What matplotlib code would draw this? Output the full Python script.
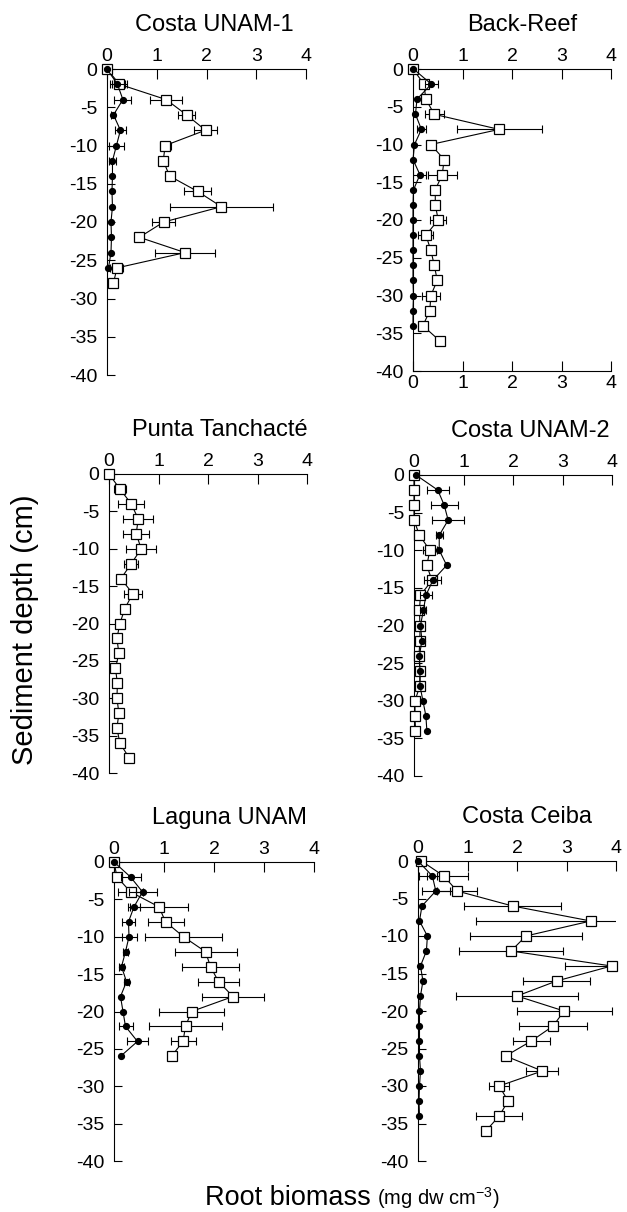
import matplotlib
import numpy as np

matplotlib.use("Agg")
import matplotlib.pyplot as plt  # noqa: E402

plt.rcParams["font.family"] = ["Liberation Sans", "DejaVu Sans"]
plt.rcParams["mathtext.fontset"] = "custom"
plt.rcParams["mathtext.rm"] = "Liberation Sans"
plt.rcParams["mathtext.default"] = "rm"

# --- data: root biomass (mg dw cm-3) vs sediment depth (cm) ---
# open squares / filled circles, each with a horizontal error (+/-)

# Costa UNAM-1
cu1_sq_depth = [0, -2, -4, -6, -8, -10, -12, -14, -16, -18, -20, -22, -24, -26, -28]
cu1_sq = [0.0, 0.25, 1.19, 1.60, 1.98, 1.17, 1.13, 1.26, 1.82, 2.30, 1.14, 0.65, 1.57, 0.20, 0.13]
cu1_sq_err = [0, 0.15, 0.32, 0.17, 0.23, 0.11, 0.09, 0.03, 0.27, 1.03, 0.23, 0.05, 0.61, 0.13, 0]
cu1_dot_depth = [0, -2, -4, -6, -8, -10, -12, -14, -16, -18, -20, -22, -24, -26]
cu1_dot = [0.0, 0.21, 0.32, 0.13, 0.27, 0.19, 0.11, 0.11, 0.10, 0.11, 0.08, 0.09, 0.08, 0.03]
cu1_dot_err = [0, 0.15, 0.17, 0.04, 0.11, 0.15, 0.07, 0, 0, 0, 0, 0, 0, 0]

# Back-Reef
br_sq_depth = [0, -2, -4, -6, -8, -10, -12, -14, -16, -18, -20, -22, -24, -26, -28, -30, -32, -34, -36]
br_sq = [0.0, 0.22, 0.26, 0.43, 1.74, 0.36, 0.63, 0.59, 0.45, 0.45, 0.51, 0.26, 0.36, 0.43, 0.49,
         0.36, 0.34, 0.20, 0.54]
br_sq_err = [0, 0, 0.08, 0.19, 0.86, 0, 0, 0.29, 0, 0, 0.16, 0.15, 0, 0.04, 0, 0.18, 0, 0, 0]
br_dot_depth = [0, -2, -4, -6, -8, -10, -12, -14, -16, -18, -20, -22, -24, -26, -28, -30, -32, -34]
br_dot = [0.01, 0.37, 0.08, 0.05, 0.17, 0.03, 0.0, 0.14, 0.01, 0.0, 0.0, 0.0, 0.0, 0.0, 0.0,
          0.01, 0.0, 0.0]
br_dot_err = [0, 0.13, 0, 0, 0.09, 0, 0, 0.13, 0, 0, 0, 0, 0, 0, 0, 0, 0, 0]

# Punta Tanchacte (squares only)
pt_sq_depth = [0, -2, -4, -6, -8, -10, -12, -14, -16, -18, -20, -22, -24, -26, -28, -30, -32, -34,
               -36, -38]
pt_sq = [0.0, 0.22, 0.45, 0.59, 0.55, 0.65, 0.45, 0.24, 0.48, 0.32, 0.22, 0.16, 0.20, 0.13, 0.17,
         0.16, 0.20, 0.16, 0.22, 0.41]
pt_sq_err = [0, 0.12, 0.26, 0.30, 0.26, 0.30, 0.14, 0, 0.18, 0.06, 0, 0, 0, 0, 0, 0, 0, 0, 0, 0]

# Costa UNAM-2
cu2_sq_depth = [0, -2, -4, -6, -8, -10, -12, -14, -16, -18, -20, -22, -24, -26, -28, -30, -32, -34]
cu2_sq = [0.0, 0.0, 0.0, 0.0, 0.11, 0.32, 0.26, 0.36, 0.13, 0.11, 0.12, 0.12, 0.10, 0.12, 0.12,
          0.02, 0.02, 0.03]
cu2_sq_err = [0, 0, 0, 0, 0, 0.14, 0, 0.06, 0, 0, 0, 0, 0, 0, 0, 0, 0, 0]
cu2_dot_depth = [0, -2, -4, -6, -8, -10, -12, -14, -16, -18, -20, -22, -24, -26, -28, -30, -32, -34]
cu2_dot = [0.04, 0.48, 0.61, 0.69, 0.51, 0.51, 0.66, 0.38, 0.24, 0.19, 0.13, 0.16, 0.11, 0.12,
           0.12, 0.18, 0.24, 0.26]
cu2_dot_err = [0, 0.22, 0.27, 0.32, 0.07, 0, 0, 0.17, 0.12, 0.06, 0, 0, 0, 0, 0, 0, 0, 0]

# Laguna UNAM
lu_sq_depth = [0, -2, -4, -6, -8, -10, -12, -14, -16, -18, -20, -22, -24, -26]
lu_sq = [0.0, 0.06, 0.33, 0.90, 1.03, 1.39, 1.83, 1.93, 2.09, 2.38, 1.55, 1.43, 1.38, 1.15]
lu_sq_err = [0, 0, 0.25, 0.58, 0.36, 0.77, 0.62, 0.57, 0.41, 0.62, 0.65, 0.73, 0.25, 0]
lu_dot_depth = [0, -2, -4, -6, -8, -10, -12, -14, -16, -18, -20, -22, -24, -26]
lu_dot = [0.0, 0.33, 0.57, 0.40, 0.29, 0.30, 0.23, 0.15, 0.25, 0.13, 0.18, 0.23, 0.47, 0.13]
lu_dot_err = [0, 0.20, 0.28, 0.12, 0.13, 0.15, 0.05, 0.05, 0.05, 0, 0, 0.14, 0.21, 0]

# Costa Ceiba
cc_sq_depth = [0, -2, -4, -6, -8, -10, -12, -14, -16, -18, -20, -22, -24, -26, -28, -30, -32, -34, -36]
cc_sq = [0.07, 0.52, 0.79, 1.91, 3.49, 2.18, 1.88, 3.91, 2.80, 2.00, 2.95, 2.73, 2.29, 1.77, 2.51,
         1.64, 1.82, 1.64, 1.37]
cc_sq_err = [0, 0.50, 0.40, 0.98, 2.32, 1.13, 1.05, 0.95, 0.68, 1.24, 0.96, 0.69, 0.38, 0.05, 0.32,
             0.20, 0, 0.47, 0]
cc_dot_depth = [0, -2, -4, -6, -8, -10, -12, -14, -16, -18, -20, -22, -24, -26, -28, -30, -32, -34]
cc_dot = [0.0, 0.29, 0.36, 0.08, 0.03, 0.19, 0.17, 0.05, 0.10, 0.05, 0.03, 0.03, 0.03, 0.03, 0.05,
          0.03, 0.02, 0.03]
cc_dot_err = [0, 0.10, 0.28, 0, 0, 0, 0, 0, 0, 0, 0, 0, 0, 0, 0, 0, 0, 0]

titles = ["Costa UNAM-1", "Back-Reef", "Punta Tanchacté", "Costa UNAM-2", "Laguna UNAM", "Costa Ceiba"]
x_ticks = [0, 1, 2, 3, 4]
y_ticks = [0, -5, -10, -15, -20, -25, -30, -35, -40]
y_ticklabels = ["0", "-5", "-10", "-15", "-20", "-25", "-30", "-35", "-40"]

panels = [
    ((cu1_sq_depth, cu1_sq, cu1_sq_err), (cu1_dot_depth, cu1_dot, cu1_dot_err)),
    ((br_sq_depth, br_sq, br_sq_err), (br_dot_depth, br_dot, br_dot_err)),
    ((pt_sq_depth, pt_sq, pt_sq_err), None),
    ((cu2_sq_depth, cu2_sq, cu2_sq_err), (cu2_dot_depth, cu2_dot, cu2_dot_err)),
    ((lu_sq_depth, lu_sq, lu_sq_err), (lu_dot_depth, lu_dot, lu_dot_err)),
    ((cc_sq_depth, cc_sq, cc_sq_err), (cc_dot_depth, cc_dot, cc_dot_err)),
]

# layout in pixels: x of 0, x of 4, y of depth 0, y of depth -40 ; title x as axes fraction
W, H = 627, 1212
BOXES = [(107, 306, 69, 375), (413, 611, 69, 371),
         (109, 307, 474, 773), (414, 612, 475, 776),
         (114, 314, 862, 1161), (418, 616, 861, 1161)]
TITLE_X = [0.54, 0.55, 0.56, 0.585, 0.575, 0.553]


def draw_series(ax, series, marker, ms, z):
    d, v, e = (np.asarray(a, float) for a in series)
    m = e > 0
    if m.any():
        ax.errorbar(v[m], d[m], xerr=e[m], fmt="none", ecolor="k", elinewidth=0.8,
                    capsize=2.6, capthick=0.8, zorder=z - 1)
    if marker == "s":
        ax.plot(v, d, "-s", color="k", lw=0.8, ms=ms, mfc="white", mec="k", mew=0.9,
                clip_on=False, zorder=z)
    else:
        ax.plot(v, d, "-o", color="k", lw=0.8, ms=ms, clip_on=False, zorder=z)


fig = plt.figure(figsize=(W / 100, H / 100), dpi=100)
for i, (title, (sq, dot), box) in enumerate(zip(titles, panels, BOXES)):
    x0, x4, yt, yb = box
    ax = fig.add_axes([x0 / W, 1 - yb / H, (x4 - x0) / W, (yb - yt) / H])
    ax.set_xlim(0, 4)
    ax.set_ylim(-40, 0)
    draw_series(ax, sq, "s", 7.5, 3)
    if dot is not None:
        draw_series(ax, dot, "o", 4.2, 5)
    back_reef = i == 1
    ax.set_xticks(x_ticks)
    ax.set_yticks(y_ticks)
    ax.set_yticklabels(y_ticklabels)
    ax.tick_params(axis="x", direction="in", length=7, width=0.8, pad=3, labelsize=14,
                   top=True, labeltop=True, bottom=back_reef, labelbottom=back_reef)
    ax.tick_params(axis="y", direction="in", length=6, width=0.8, pad=7, labelsize=14)
    ax.spines["right"].set_visible(False)
    ax.spines["bottom"].set_visible(back_reef)
    for s in ax.spines.values():
        s.set_linewidth(0.8)
    ax.patch.set_alpha(0)
    ax.annotate(title, xy=(TITLE_X[i], 1), xycoords="axes fraction", xytext=(0, 32),
                textcoords="offset points", ha="center", va="center", fontsize=17)

fig.text(25 / W, 1 - 630 / H, "Sediment depth (cm)", rotation=90, ha="center", va="center",
         fontsize=21)
fig.text(205 / W, 1 - 1205 / H, "Root biomass", ha="left", va="baseline", fontsize=19.5)
fig.text(377 / W, 1 - 1205 / H, r"(mg dw cm$^{-3}$)", ha="left", va="baseline", fontsize=14.5)

fig.savefig("out.png", dpi=100)
